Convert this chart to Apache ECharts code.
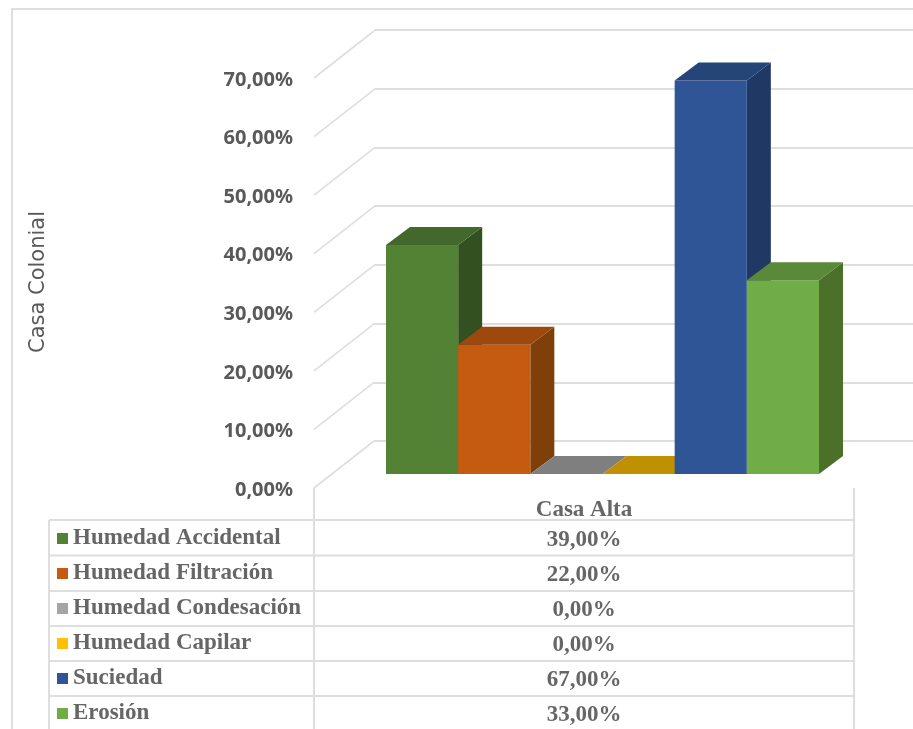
<!DOCTYPE html>
<html><head><meta charset="utf-8">
<style>html,body{margin:0;padding:0;background:#fff}#c{width:913px;height:729px}</style>
<script src="https://cdn.jsdelivr.net/npm/echarts@6/dist/echarts.min.js"></script>
</head><body><div id="c"></div>
<script>
const seriesNames = ['Humedad Accidental','Humedad Filtración','Humedad Condesación','Humedad Capilar','Suciedad','Erosión'];
const seriesValues = [39, 22, 0, 0, 67, 33];
const categoryLabels = ['Casa Alta'];
const yAxisTicks = [0, 10, 20, 30, 40, 50, 60, 70];
const axisTitle = 'Casa Colonial';
const frontColors = ['#548235','#C55A11','#A5A5A5','#FFC000','#2F5597','#70AD47'];
const topColors   = ['#43682B','#9E480E','#7F7F7F','#BF9000','#254478','#5A8A39'];
const sideColors  = ['#335020','#7F3F08','#636363','#9A7400','#1F3864','#4A7029'];

const fmt = v => v.toFixed(2).replace('.', ',') + '%';
const gridCol = '#DEDEDE', textCol = '#595959';
const serif = '"Liberation Serif"';
const depth = {x: 24, y: 18}, wall = {x: 60, y: 47}, labelDrop = 2;

const chart = echarts.init(document.getElementById('c'));

function renderWall(params, api) {
  const p = api.coord([0, api.value(1)]);
  const x0 = params.coordSys.x, y = p[1] - labelDrop;
  return {type: 'polyline', silent: true,
    shape: {points: [[x0, y], [x0 + wall.x, y - wall.y]]},
    style: {stroke: gridCol, lineWidth: 1.6, fill: null}};
}
function renderBar(i) {
  return function (params, api) {
    const t = api.coord([api.value(0), api.value(1)]);
    const b = api.coord([api.value(0), 0]);
    const w = api.size([1, 0])[0];
    const l = t[0] - w / 2, r = t[0] + w / 2, dx = depth.x, dy = depth.y;
    const poly = (pts, c) => ({type: 'polygon', shape: {points: pts}, style: {fill: c}});
    const kids = [];
    if (api.value(1) > 0) {
      kids.push(poly([[r, t[1]], [r + dx, t[1] - dy], [r + dx, b[1] - dy], [r, b[1]]], sideColors[i]));
      kids.push({type: 'rect', shape: {x: l, y: t[1], width: w, height: b[1] - t[1]}, style: {fill: frontColors[i]}});
    }
    kids.push(poly([[l, t[1]], [r, t[1]], [r + dx, t[1] - dy], [l + dx, t[1] - dy]], topColors[i]));
    return {type: 'group', children: kids};
  };
}

// Table and frame
const rowY = [520, 555.5, 591, 626, 661, 696];
const line = (x1, y1, x2, y2) => ({type: 'line', silent: true, shape: {x1, y1, x2, y2},
  style: {stroke: gridCol, lineWidth: 2}});
const graphics = [
  line(11, 9, 913, 9), line(12, 9, 12, 729),
  line(49, 520, 49, 729), line(314, 488, 314, 729), line(854, 488, 854, 729)
];
rowY.forEach(y => graphics.push(line(49, y, 854, y)));
seriesValues.forEach((v, i) => graphics.push({type: 'text', silent: true,
  style: {text: fmt(v), x: 584, y: (i < 5 ? (rowY[i] + rowY[i + 1]) / 2 : 713.5) + 2, align: 'center', verticalAlign: 'middle',
    fontFamily: serif, fontWeight: 'bold', fontSize: 23, fill: '#666666'}}));

chart.setOption({
  animation: false,
  backgroundColor: '#fff',
  graphic: graphics,
  legend: {
    data: seriesNames, orient: 'vertical', left: 57, top: 525, icon: 'rect',
    itemWidth: 11, itemHeight: 11, itemGap: 8, selectedMode: false, padding: 0,
    textStyle: {fontFamily: serif, fontWeight: 'bold', fontSize: 23, lineHeight: 27, color: '#666666'}
  },
  grid: [
    {left: 314, top: 78 + labelDrop, width: 540, height: 410},
    {left: 374, top: 30, width: 539, height: 411},
    {left: 386, top: 63, width: 433, height: 411}
  ],
  xAxis: [
    {gridIndex: 0, type: 'category', data: categoryLabels, axisLine: {show: false}, axisTick: {show: false},
     axisLabel: {margin: 11 - labelDrop, fontFamily: serif, fontWeight: 'bold', fontSize: 23, color: '#666666'}},
    {gridIndex: 1, type: 'category', data: categoryLabels, show: false},
    {gridIndex: 2, type: 'category', data: seriesNames, show: false}
  ],
  yAxis: [
    {gridIndex: 0, type: 'value', min: yAxisTicks[0], max: yAxisTicks[7], interval: 10,
     name: axisTitle, nameLocation: 'middle', nameGap: 265, nameRotate: 90,
     nameTextStyle: {fontFamily: '"DejaVu Sans"', fontSize: 21, color: textCol, padding: [0, 0, 0, 6]},
     axisLine: {show: false}, axisTick: {show: false}, splitLine: {show: false},
     axisLabel: {margin: 21, formatter: v => fmt(v), fontFamily: '"Noto Sans"', fontWeight: 'bold', fontSize: 20, color: textCol}},
    {gridIndex: 1, type: 'value', min: 0, max: 70, interval: 10, axisLine: {show: false}, axisTick: {show: false},
     axisLabel: {show: false}, splitLine: {lineStyle: {color: gridCol, width: 2}}},
    {gridIndex: 2, type: 'value', min: 0, max: 70, interval: 10, show: false}
  ],
  series: [
    {type: 'custom', name: 'wall', xAxisIndex: 0, yAxisIndex: 0, silent: true, z: 1,
     data: yAxisTicks.map(v => [0, v]), encode: {x: 0, y: 1}, renderItem: renderWall}
  ].concat(seriesNames.map((n, i) => ({
    type: 'custom', name: n, xAxisIndex: 2, yAxisIndex: 2, z: 3 + i,
    itemStyle: {color: frontColors[i]},
    data: [[i, seriesValues[i]]], encode: {x: 0, y: 1}, renderItem: renderBar(i)
  })))
});
</script></body></html>
